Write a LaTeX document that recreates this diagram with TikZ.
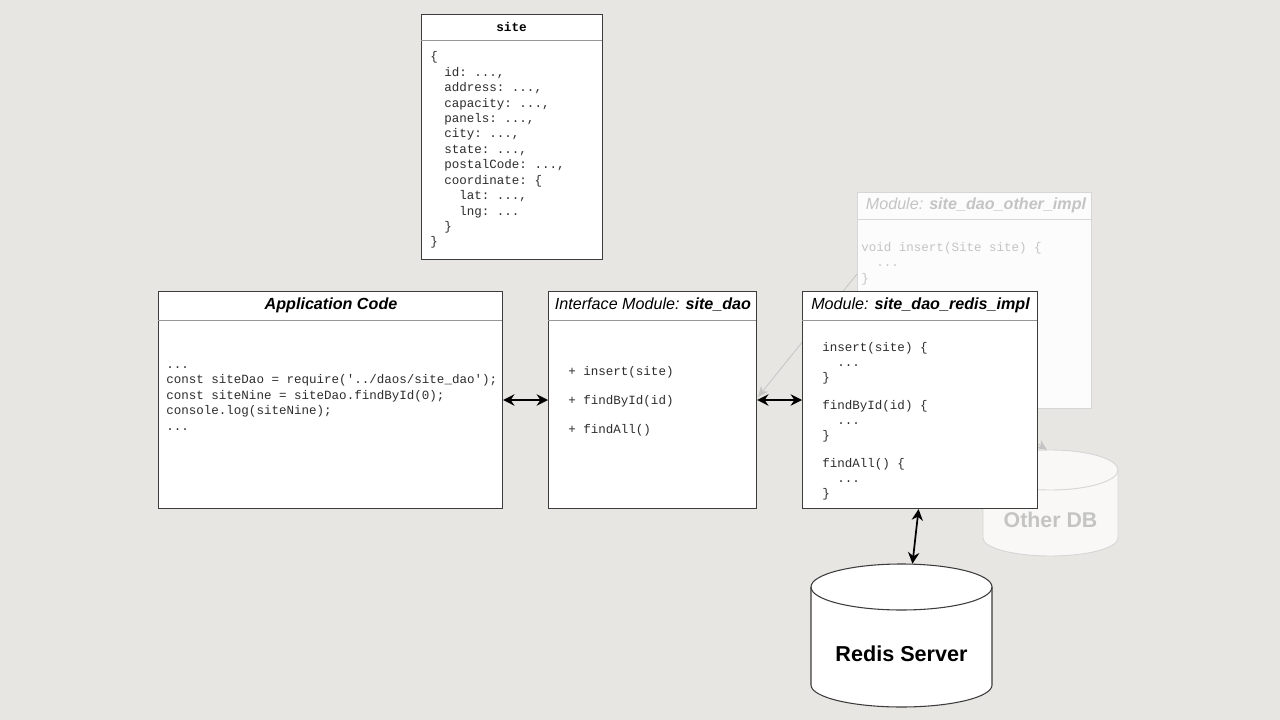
\documentclass[tikz,border=0pt]{standalone}
\usepackage{fontspec}
\setmainfont{Liberation Sans}
\setsansfont{Liberation Sans}
\setmonofont{Liberation Mono}
\usetikzlibrary{arrows.meta,calc}
\definecolor{bgc}{RGB}{232,230,226}
\definecolor{edge}{RGB}{60,60,60}
\definecolor{sep}{RGB}{150,150,150}
\definecolor{codec}{RGB}{45,45,45}
\definecolor{fadeline}{RGB}{214,214,214}
\definecolor{fadetext}{RGB}{196,196,196}
\tikzset{
  box/.style={draw=edge, fill=white, line width=0.8pt, anchor=north west, inner sep=0pt},
  fadebox/.style={draw=fadeline, fill=white, fill opacity=0.9, line width=0.8pt, anchor=north west, inner sep=0pt},
  sepline/.style={draw=sep, line width=0.6pt},
  titletxt/.style={font=\fontsize{12.1}{14}\selectfont, text=black, inner sep=0pt},
  code/.style={font=\fontsize{9.4}{11}\ttfamily, text=codec, inner sep=0pt, anchor=base west},
  fadecode/.style={font=\fontsize{9.4}{11}\ttfamily, text=fadetext, inner sep=0pt, anchor=base west},
  biarrow/.style={{Stealth[length=8.5pt,width=8.5pt]}-{Stealth[length=8.5pt,width=8.5pt]}, line width=1.3pt, black},
  fadearrow/.style={-{Stealth[length=8pt,width=7pt]}, line width=0.6pt, draw=fadetext},
}
\begin{document}
\begin{tikzpicture}[x=0.75pt,y=0.75pt]
\useasboundingbox (0,0) rectangle (1280,-720);
\fill[bgc] (0,0) rectangle (1280,-720);

% ---------- faded elements ----------
\node[fadebox, minimum width=175.5pt, minimum height=162pt] (oimpl) at (857,-192) {};
\draw[draw=fadeline, line width=0.6pt] (857,-219) -- (1091,-219);
\node[titletxt, text=fadetext] (oimpltitle) at (976,-205.5) {\itshape Module: \bfseries site\_dao\_other\_impl};
\node[fadecode] (o1) at (861,-252) {void insert(Site site) \{};
\node[fadecode] (o2) at (876,-267) {...};
\node[fadecode] (o3) at (861,-282) {\}};

\coordinate (ostart) at (857,-274);
\coordinate (oend) at (758,-397);
\draw[fadearrow] (ostart) -- (oend);
\coordinate (ostart2) at (985,-408);
\coordinate (oend2) at (1047,-450);
\draw[fadearrow] (ostart2) -- (oend2);

% Other DB cylinder
\fill[white, fill opacity=0.75] (983,-470) -- (983,-538) arc (180:360:67.5 and 18) -- (1118,-470) arc (0:180:67.5 and 20) -- cycle;
\draw[fadeline, line width=0.7pt] (983,-470) -- (983,-538) arc (180:360:67.5 and 18) -- (1118,-470) arc (0:180:67.5 and 20) -- cycle;
\draw[fadeline, line width=0.7pt] (983,-470) arc (180:360:67.5 and 20);
\node[font=\fontsize{16}{19}\selectfont\bfseries, text=fadetext, inner sep=0pt] (otherdb) at (1050.5,-520) {Other DB};

% ---------- site box ----------
\node[box, minimum width=135.75pt, minimum height=183.75pt] (site) at (421,-14) {};
\draw[sepline] (421,-40) -- (602,-40);
\node[font=\fontsize{9.5}{11}\ttfamily\bfseries, inner sep=0pt] (sitetitle) at (511.5,-27) {site};
\node[code] (s1) at (430,-61) {\{};
\node[code] (s2) at (444,-76.4) {id: ...,};
\node[code] (s3) at (444,-91.8) {address: ...,};
\node[code] (s4) at (444,-107.2) {capacity: ...,};
\node[code] (s5) at (444,-122.6) {panels: ...,};
\node[code] (s6) at (444,-138) {city: ...,};
\node[code] (s7) at (444,-153.4) {state: ...,};
\node[code] (s8) at (444,-168.8) {postalCode: ...,};
\node[code] (s9) at (444,-184.2) {coordinate: \{};
\node[code] (s10) at (459,-199.6) {lat: ...,};
\node[code] (s11) at (459,-215) {lng: ...};
\node[code] (s12) at (444,-230.4) {\}};
\node[code] (s13) at (430,-245.8) {\}};

% ---------- Application Code ----------
\node[box, minimum width=258pt, minimum height=162.75pt] (app) at (158,-291) {};
\draw[sepline] (158,-320) -- (502,-320);
\node[titletxt] (apptitle) at (331,-305) {\bfseries\itshape Application Code};
\node[code] (a1) at (166,-368) {...};
\node[code] (a2) at (166,-383.5) {const siteDao = require('../daos/site\_dao');};
\node[code] (a3) at (166,-399) {const siteNine = siteDao.findById(0);};
\node[code] (a4) at (166,-414.5) {console.log(siteNine);};
\node[code] (a5) at (166,-430) {...};

% ---------- Interface ----------
\node[box, minimum width=156pt, minimum height=162.75pt] (iface) at (548,-291) {};
\draw[sepline] (548,-320) -- (756,-320);
\node[titletxt] (ifacetitle) at (653,-305) {\itshape Interface Module: \bfseries site\_dao};
\node[code] (i1) at (568,-375) {+ insert(site)};
\node[code] (i2) at (568,-404) {+ findById(id)};
\node[code] (i3) at (568,-433) {+ findAll()};

% ---------- Redis impl ----------
\node[box, minimum width=176.25pt, minimum height=162.75pt] (rimpl) at (802,-291) {};
\draw[sepline] (802,-320) -- (1037,-320);
\node[titletxt] (rimpltitle) at (920.5,-305) {\itshape Module: \bfseries site\_dao\_redis\_impl};
\node[code] (r1) at (822,-351) {insert(site) \{};
\node[code] (r2) at (837,-366.5) {...};
\node[code] (r3) at (822,-381) {\}};
\node[code] (r4) at (822,-409) {findById(id) \{};
\node[code] (r5) at (837,-424.5) {...};
\node[code] (r6) at (822,-439) {\}};
\node[code] (r7) at (822,-467) {findAll() \{};
\node[code] (r8) at (837,-482.5) {...};
\node[code] (r9) at (822,-497) {\}};

% ---------- Redis server cylinder ----------
\node[minimum width=135.75pt, minimum height=107.25pt, inner sep=0pt] (redis) at (901.5,-635.5) {};
\draw[edge, fill=white, line width=0.8pt] (811,-587) -- (811,-685) arc (180:360:90.5 and 22) -- (992,-587) arc (0:180:90.5 and 23) -- cycle;
\draw[edge, line width=0.8pt] (811,-587) arc (180:360:90.5 and 23);
\node[font=\fontsize{16.2}{19}\selectfont\bfseries, inner sep=0pt] (redistxt) at (901.5,-654) {Redis Server};

% ---------- connectors ----------
\draw[biarrow] (app.east |- 0,-400) -- (iface.west |- 0,-400);
\draw[biarrow] (iface.east |- 0,-400) -- (rimpl.west |- 0,-400);
\draw[biarrow] ([xshift=-1.1pt]rimpl.south) -- ([xshift=8.2pt]redis.north);
\end{tikzpicture}
\end{document}
